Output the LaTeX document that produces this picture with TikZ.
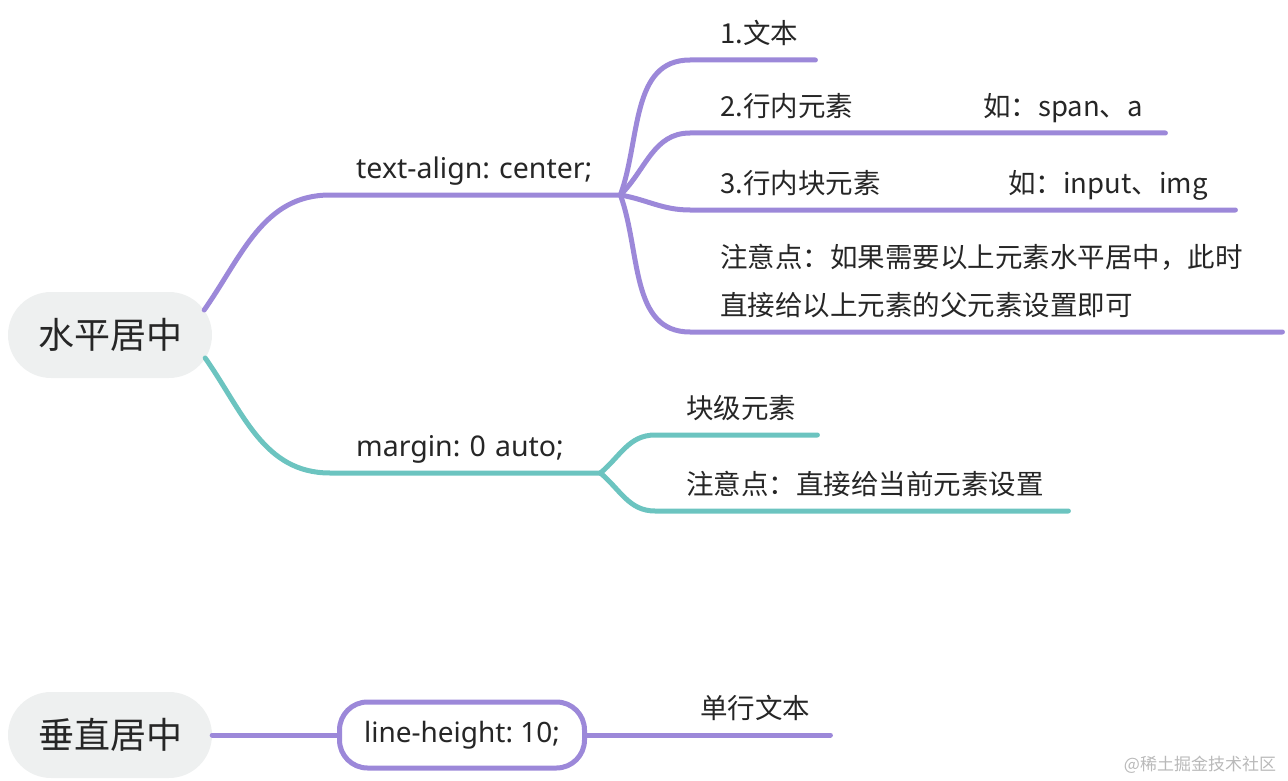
\documentclass[tikz,border=0pt]{standalone}
\usepackage{fontspec}
\setmainfont{Noto Sans CJK SC}
\newfontfamily\latinfont{Noto Sans}
\usepackage{xcolor}
\definecolor{BranchPurple}{RGB}{156,136,217}
\definecolor{BranchTeal}{RGB}{108,196,192}
\definecolor{RootGray}{RGB}{238,240,240}
\definecolor{InkGray}{RGB}{38,38,38}
\usetikzlibrary{positioning,calc}

\begin{document}
\frenchspacing
\begin{tikzpicture}[x=1pt, y=-1pt,
    root/.style={rectangle, fill=RootGray, rounded corners=43pt, minimum width=204pt,
                 minimum height=86pt, text=InkGray, font=\fontsize{36}{40}\selectfont},
    topic/.style={rectangle, anchor=south west, inner xsep=0pt, inner ysep=0pt, text depth=16pt,
                  align=left, text=InkGray, font=\fontsize{27.5}{48}\selectfont},
    boxed/.style={rectangle, draw=BranchPurple, line width=5pt, fill=white, rounded corners=28pt,
                  minimum width=245pt, minimum height=66pt, text=InkGray,
                  font=\latinfont\fontsize{28}{32}\selectfont},
    pline/.style={draw=BranchPurple, line width=5pt, line cap=round},
    tline/.style={draw=BranchTeal, line width=5pt, line cap=round}
]
    \useasboundingbox (0,0) rectangle (1288,781);

    \node[root] (hc) at (110,335) {水平居中};
    \node[root] (vc) at (110,735) {垂直居中};

    \node[topic, text width=264pt] (ta) at (356,195) {\latinfont\fontsize{28.5}{48}\selectfont text-align: center;};
    \node[topic, text width=95pt] (t1) at (720,60) {1.文本};
    \node[topic, text width=445pt] (t2) at (720,133) {\makebox[263pt][l]{2.行内元素}如：span、a};
    \node[topic, text width=515pt] (t3) at (720,210) {\makebox[288pt][l]{3.行内块元素}如：input、img};
    \node[topic, align=none] (t4) at (720,332) {\parbox[b]{562pt}{注意点：如果需要以上元素水平居中，此时\\直接给以上元素的父元素设置即可}};

    \node[topic, text width=244pt] (mg) at (356,473) {\latinfont\fontsize{28.5}{48}\selectfont margin: 0 auto;};
    \node[topic, text width=131pt] (k1) at (686,435) {块级元素};
    \node[topic, text width=382pt] (k2) at (686,511) {注意点：直接给当前元素设置};

    \node[boxed] (lh) at (462,735) {line-height: 10;};
    \node[topic, text width=130pt] (dh) at (700,735) {单行文本};

    \node[text=gray!55, font=\fontsize{17}{20}\selectfont] (wm) at (1200,765) {@稀土掘金技术社区};

    \draw[pline] ($(hc.east)+(-8,-25)$) to[out=55,in=180] ([xshift=-26pt]ta.south west) -- (ta.south east);
    \draw[pline] (ta.south east) to[out=70,in=180] ([xshift=-30pt]t1.south west) -- (t1.south east);
    \draw[pline] (ta.south east) to[out=45,in=180] ([xshift=-30pt]t2.south west) -- (t2.south east);
    \draw[pline] (ta.south east) to[out=-10,in=180] ([xshift=-30pt]t3.south west) -- (t3.south east);
    \draw[pline] (ta.south east) to[out=-70,in=180] ([xshift=-30pt]t4.south west) -- (t4.south east);

    \draw[tline] ($(hc.east)+(-7,23)$) to[out=-55,in=180] ([xshift=-26pt]mg.south west) -- (mg.south east);
    \draw[tline] (mg.south east) to[out=40,in=180] ([xshift=-31pt]k1.south west) -- (k1.south east);
    \draw[tline] (mg.south east) to[out=-40,in=180] ([xshift=-31pt]k2.south west) -- (k2.south east);

    \draw[pline] (vc.east) -- (lh.west);
    \draw[pline] (lh.east) -- (dh.south east);
\end{tikzpicture}
\end{document}
